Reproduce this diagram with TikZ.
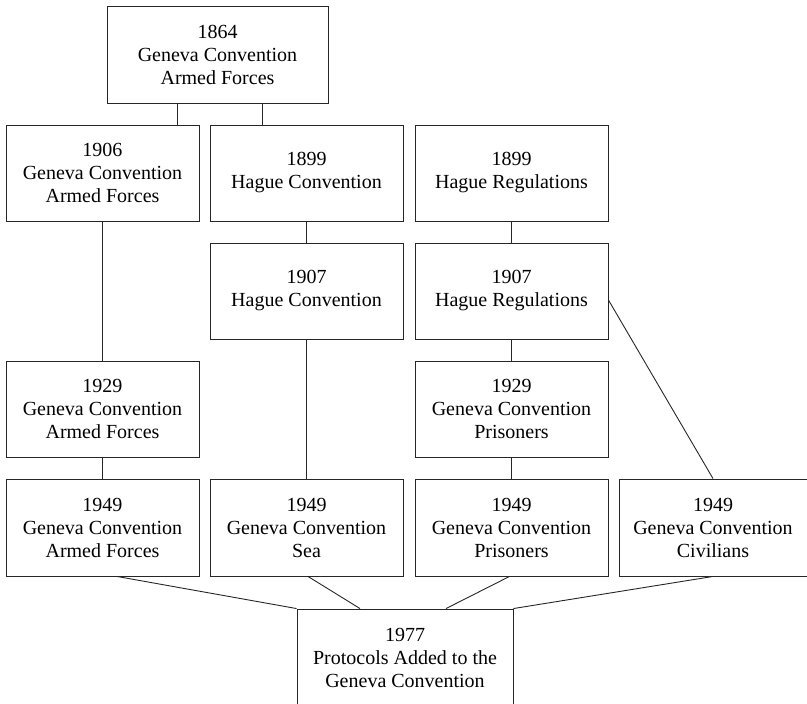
\documentclass[tikz,border=0pt]{standalone}
\usepackage{fontspec}
\setmainfont{Liberation Serif}
\begin{document}
\begin{tikzpicture}[x=1pt,y=-1pt,
  treaty/.style={draw=black!85, line width=0.9pt, rectangle, inner sep=0pt,
    minimum width=193pt, minimum height=96pt, align=center,
    font=\fontsize{20}{23}\selectfont},
  link/.style={draw=black!85, line width=0.9pt}]
\useasboundingbox (0,0) rectangle (807,704);
\clip (0,0) rectangle (807,704);

% top of the lineage
\node[treaty, minimum width=221pt, minimum height=97pt] (g1864) at (217.5,54.5)
  {1864\\Geneva Convention\\Armed Forces};

% first generation
\node[treaty] (g1906)  at (102.5,173) {1906\\Geneva Convention\\Armed Forces};
\node[treaty] (h1899c) at (306.5,173) {1899\\Hague Convention};
\node[treaty] (h1899r) at (511.5,173) {1899\\Hague Regulations};

% 1907 revisions
\node[treaty] (h1907c) at (306.5,291) {1907\\Hague Convention};
\node[treaty] (h1907r) at (511.5,291) {1907\\Hague Regulations};

% 1929 conventions
\node[treaty] (g1929a) at (102.5,409) {1929\\Geneva Convention\\Armed Forces};
\node[treaty] (g1929p) at (511.5,409) {1929\\Geneva Convention\\Prisoners};

% the four 1949 conventions
\node[treaty, minimum height=97pt] (g1949a) at (102.5,527.5) {1949\\Geneva Convention\\Armed Forces};
\node[treaty, minimum height=97pt] (g1949s) at (306.5,527.5) {1949\\Geneva Convention\\Sea};
\node[treaty, minimum height=97pt] (g1949p) at (511.5,527.5) {1949\\Geneva Convention\\Prisoners};
\node[treaty, minimum width=188pt, minimum height=97pt] (g1949c) at (713,527.5) {1949\\Geneva Convention\\Civilians};

% 1977 protocols
\node[treaty, minimum width=216pt, minimum height=97pt] (p1977) at (405,657.5)
  {1977\\Protocols Added to the\\Geneva Convention};

% connectors from 1864
\draw[link] ([xshift=-40.5pt]g1864.south) -- ([xshift=-40.5pt]g1864.south |- g1906.north);
\draw[link] ([xshift=44.5pt]g1864.south) -- ([xshift=44.5pt]g1864.south |- h1899c.north);

% vertical chains
\draw[link] (g1906.south) -- (g1929a.north);
\draw[link] (g1929a.south) -- (g1949a.north);
\draw[link] (h1899c.south) -- (h1907c.north);
\draw[link] (h1907c.south) -- (g1949s.north);
\draw[link] (h1899r.south) -- (h1907r.north);
\draw[link] (h1907r.south) -- (g1929p.north);
\draw[link] (g1929p.south) -- (g1949p.north);
\draw[link] ([yshift=-9pt]h1907r.east) -- (g1949c.north);

% convergence on the 1977 protocols
\draw[link] ([xshift=14.5pt]g1949a.south) -- (p1977.north west);
\draw[link] ([xshift=1.5pt]g1949s.south) -- ([xshift=-45pt]p1977.north);
\draw[link] ([xshift=-2pt]g1949p.south) -- ([xshift=41pt]p1977.north);
\draw[link] (g1949c.south) -- (p1977.north east);
\end{tikzpicture}
\end{document}
